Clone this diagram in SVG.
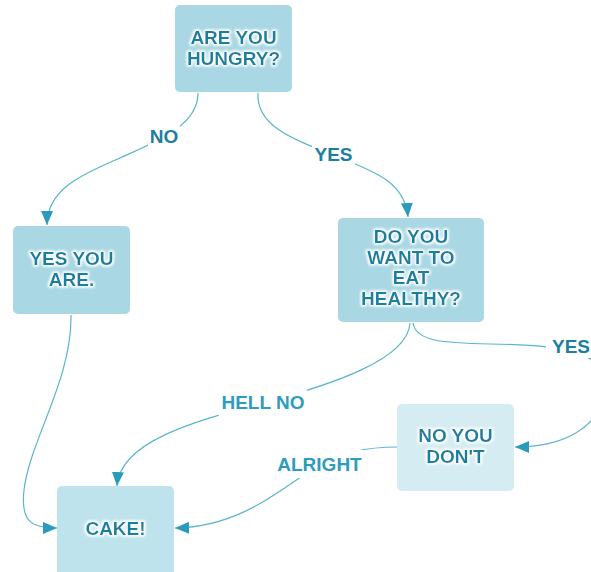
<svg xmlns="http://www.w3.org/2000/svg" width="591" height="572" viewBox="0 0 591 572">
  <style>
    .box { stroke: none; }
    .dark { fill: #a9d7e3; }
    .mid { fill: #bfe3ec; }
    .pale { fill: #d5ecf2; }
    .ntext { font-family: "Liberation Sans", Arial, sans-serif; font-weight: bold; font-size: 19px; fill: #15819f; text-anchor: middle; filter: url(#glow); }
    .edge { fill: none; stroke: #5ab5cd; stroke-width: 1.2; marker-end: url(#arrow); }
    .elabel { font-family: "Liberation Sans", Arial, sans-serif; font-weight: bold; font-size: 19px; fill: #1b7f9e; text-anchor: middle; }
    .elabel.light { fill: #2d9cbf; }
    .lbg { fill: #ffffff; }
  </style>
  <defs>
    <marker id="arrow" markerUnits="userSpaceOnUse" markerWidth="16" markerHeight="12" refX="14" refY="6" orient="auto">
      <path d="M0,0 L14,6 L0,12 Z" fill="#2a9bbd"/>
    </marker>
    <filter id="glow" x="-20%" y="-40%" width="140%" height="180%">
      <feMorphology in="SourceAlpha" operator="dilate" radius="1.2" result="d"/>
      <feGaussianBlur in="d" stdDeviation="1.8" result="b"/>
      <feFlood flood-color="#ffffff"/>
      <feComposite in2="b" operator="in" result="g"/>
      <feMerge>
        <feMergeNode in="g"/>
        <feMergeNode in="g"/>
        <feMergeNode in="SourceGraphic"/>
      </feMerge>
    </filter>
  </defs>

  <!-- connectors -->
  <g id="connectors">
    <path class="edge" d="M198,93 C198,125 160,140 120,158 C80,175 47,190 47,225"/>
    <path class="edge" d="M258,93 C256,125 290,138 333,155 C370,170 405,180 408,217"/>
    <path class="edge" d="M71,315 C72,380 30,440 24,490 C20,525 35,528 57,528"/>
    <path class="edge" d="M410,323 C408,360 330,385 263,403 C200,420 120,440 117,486"/>
    <path class="edge" d="M413,323 C416,342 445,343 490,344 C560,345 610,350 605,390 C600,430 560,447 515,447"/>
    <path class="edge" d="M397,447 C365,447 340,453 318,465 C280,490 240,527 175,528"/>
  </g>

  <!-- connector labels -->
  <g id="edge-labels">
    <rect class="lbg" x="148" y="126" width="32" height="22"/>
    <text class="elabel" x="164" y="143">NO</text>
    <rect class="lbg" x="312" y="144" width="43" height="22"/>
    <text class="elabel" x="333.5" y="161">YES</text>
    <rect class="lbg" x="219" y="390" width="88" height="26"/>
    <text class="elabel light" x="263" y="409">HELL NO</text>
    <rect class="lbg" x="272" y="450" width="96" height="28"/>
    <text class="elabel light" x="319.5" y="471">ALRIGHT</text>
    <rect class="lbg" x="546" y="334" width="45" height="24"/>
    <text class="elabel" x="552" y="353" style="text-anchor:start">YES</text>
  </g>

  <g id="n-hungry">
    <rect class="box dark" x="175" y="5" width="117" height="87" rx="5"/>
    <text class="ntext" x="233.5" y="44">ARE YOU</text>
    <text class="ntext" x="233.5" y="65">HUNGRY?</text>
  </g>

  <g id="n-yes-you-are">
    <rect class="box dark" x="13" y="226" width="117" height="88" rx="5"/>
    <text class="ntext" x="71.5" y="265">YES YOU</text>
    <text class="ntext" x="71.5" y="286">ARE.</text>
  </g>

  <g id="n-healthy">
    <rect class="box dark" x="338" y="218" width="146" height="104" rx="5"/>
    <text class="ntext" x="411" y="243">DO YOU</text>
    <text class="ntext" x="411" y="264">WANT TO</text>
    <text class="ntext" x="411" y="284">EAT</text>
    <text class="ntext" x="411" y="305">HEALTHY?</text>
  </g>

  <g id="n-no-you-dont">
    <rect class="box pale" x="397" y="404" width="117" height="87" rx="5"/>
    <text class="ntext" x="455.5" y="442">NO YOU</text>
    <text class="ntext" x="455.5" y="463">DON'T</text>
  </g>

  <g id="n-cake">
    <rect class="box mid" x="57" y="486" width="117" height="92" rx="5"/>
    <text class="ntext" x="115.5" y="535">CAKE!</text>
  </g>
</svg>
